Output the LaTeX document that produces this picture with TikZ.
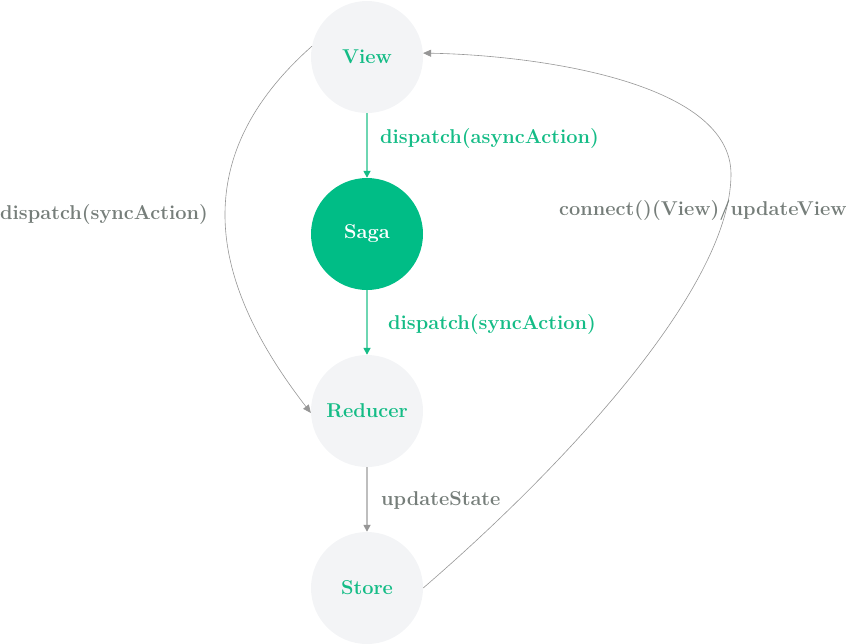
\documentclass[tikz,border=0pt]{standalone}
\usetikzlibrary{arrows.meta}
\definecolor{gtext}{RGB}{20,188,134}
\definecolor{gfill}{RGB}{0,189,134}
\definecolor{gline}{RGB}{110,214,178}
\definecolor{graytext}{RGB}{118,126,122}
\definecolor{grayline}{RGB}{150,150,150}
\definecolor{vline}{RGB}{190,190,190}
\definecolor{circ}{RGB}{243,244,246}
\tikzset{
  stage/.style={circle, fill=circ, minimum size=112pt, inner sep=0pt, text=gtext, font=\fontsize{20}{24}\selectfont\bfseries},
  stagehot/.style={stage, fill=gfill, text=white},
  lab/.style={anchor=west, inner sep=0pt, font=\fontsize{20}{24}\selectfont\bfseries},
  greenarrow/.style={draw=gline, line width=1.6pt, -{Triangle[length=7pt,width=7pt,fill=gtext,color=gtext]}},
  grayarrow/.style={draw=vline, line width=1.6pt, -{Triangle[length=7pt,width=7pt,fill=grayline,color=grayline]}},
  curve/.style={draw=grayline, line width=0.6pt, -{Triangle[length=8pt,width=7pt,fill=grayline,color=grayline]}}
}
\begin{document}
\begin{tikzpicture}[x=1pt,y=-1pt]
\useasboundingbox (0,0) rectangle (853,643);
\node[stage] (view) at (367,57) {View};
\node[stagehot] (saga) at (367,234) {Saga};
\node[stage] (reducer) at (367,411) {Reducer};
\node[stage] (store) at (367,588) {Store};

\draw[greenarrow] (view.south) -- (saga.north);
\draw[greenarrow] (saga.south) -- (reducer.north);
\draw[grayarrow] (reducer.south) -- (store.north);

\coordinate (lmid) at (225,215);
\coordinate (rmid) at (731,175);
\draw[curve] (view.169) .. controls (240,110) and (225,170) .. (lmid)
  .. controls (225,290) and (270,360) .. (reducer.182);
\draw[curve] (store.east) .. controls (560,470) and (730,290) .. (rmid)
  .. controls (732,80) and (530,55) .. (view.4);

\node[lab, text=gtext] (l1) at (380,139) {dispatch(asyncAction)};
\node[lab, text=gtext] (l2) at (388,325) {dispatch(syncAction)};
\node[lab, text=graytext] (l3) at (381,500) {updateState};
\node[lab, text=graytext] (l4) at (0,215) {dispatch(syncAction)};
\node[lab, text=graytext] (l5) at (559,211) {connect()(View)/updateView};
\end{tikzpicture}
\end{document}
